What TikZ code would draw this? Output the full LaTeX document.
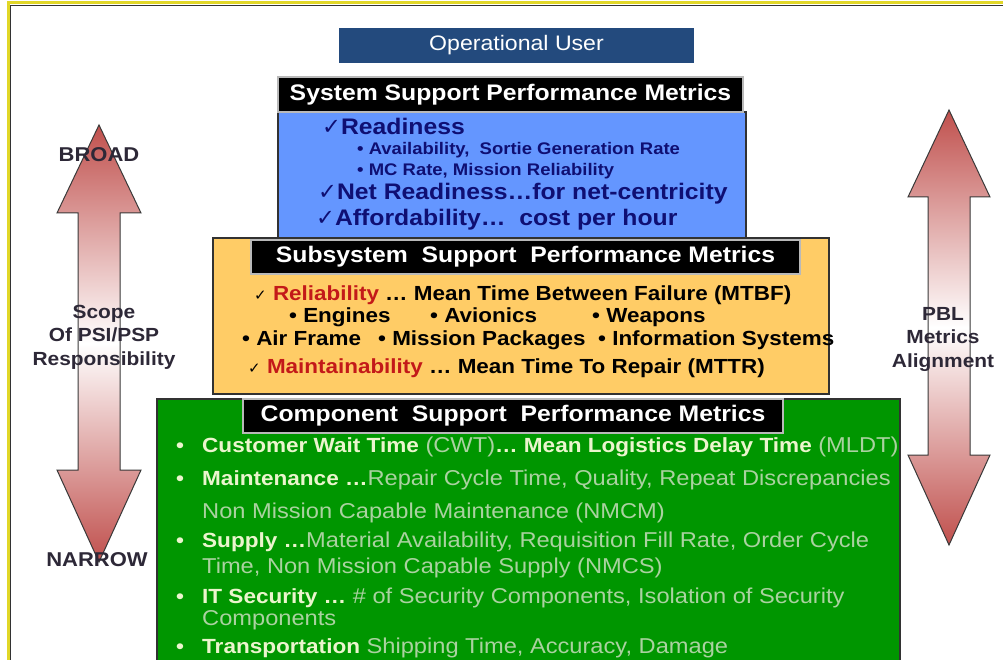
\documentclass[tikz,border=0pt]{standalone}
\usepackage{fontspec}
\setmainfont{Liberation Sans}[FakeStretch=1.1]
\newfontfamily\chkfont{DejaVu Sans}
\newcommand\setfs[1]{\fontsize{#1}{#1}\selectfont}
\newcommand\chk{{\chkfont ✓}}
% pale bold lead-in words of the component bullets
\newcommand\gb[1]{{\color{gpale}\bfseries\setfs{20.5}#1}}

\definecolor{opblue}{RGB}{35,74,125}
\definecolor{sysblue}{RGB}{100,150,255}
\definecolor{navyt}{RGB}{15,15,115}
\definecolor{subor}{RGB}{255,204,102}
\definecolor{redt}{RGB}{195,25,25}
\definecolor{compgr}{RGB}{0,150,0}
\definecolor{gpale}{RGB}{235,245,205}
\definecolor{gtxt}{RGB}{170,210,160}
\definecolor{arrred}{RGB}{192,80,77}
\definecolor{boxline}{RGB}{50,50,50}
\definecolor{framey}{RGB}{225,215,40}
\definecolor{lbl}{RGB}{45,40,55}

\begin{document}
\begin{tikzpicture}[x=1pt,y=-1pt,
  box/.style={draw=boxline, line width=1.3pt, inner sep=0pt},
  hdr/.style={fill=black, draw=gray!55, line width=1.2pt, text=white,
              font=\bfseries\setfs{22.5}, inner sep=0pt},
  txt/.style={inner sep=0pt, anchor=base west},
  bluetxt/.style={txt, text=navyt, font=\bfseries\setfs{22.5}},
  bluesub/.style={txt, text=navyt, font=\bfseries\setfs{16.8}},
  subtxt/.style={txt, text=black, font=\bfseries\setfs{20.4}},
  grtxt/.style={txt, text=gtxt, font=\setfs{21.5}},
  grbul/.style={txt, text=gpale, font=\bfseries\setfs{20.5}},
  sidelbl/.style={inner sep=0pt, text=lbl, align=center,
                  font=\bfseries\fontsize{19}{23.5}\selectfont},
  dblarrow/.style={draw=gray!45!black, line width=1pt,
                   top color=arrred, bottom color=arrred, middle color=white},
]
\useasboundingbox (0,0) rectangle (1003,660);
\fill[white] (0,0) rectangle (1003,660);

% outer frame
\draw[framey, line width=3pt] (8,660) -- (8,3) -- (1003,3);
\draw[black!80, line width=1.2pt] (10.5,660) -- (10.5,5.5) -- (1003,5.5);

% top box
\node[fill=opblue, minimum width=355pt, minimum height=35pt, inner sep=0pt,
      text=white, font=\setfs{21}] (user) at (516.5,45.5) {Operational User};

% system level
\node[box, fill=sysblue, minimum width=468pt, minimum height=126pt] (sys) at (512,175) {};
\node[hdr, minimum width=465pt, minimum height=35pt] (sysh) at (510.5,94.5)
  {System Support Performance Metrics};

\node[bluetxt] (rd) at (322,135) {\chk Readiness};
\node[bluesub] (av) at (357,155) {• Availability,\ \ Sortie Generation Rate};
\node[bluesub] (mc) at (357,176) {• MC Rate, Mission Reliability};
\node[bluetxt] (nr) at (318,200) {\chk Net Readiness…for net-centricity};
\node[bluetxt] (af) at (316,226) {\chk Affordability…\ \ cost per hour};

% subsystem level
\node[box, fill=subor, minimum width=616pt, minimum height=156pt] (sub) at (521,316) {};
\node[hdr, minimum width=549pt, minimum height=34pt] (subh) at (525.5,257)
  {Subsystem\ \ Support\ \ Performance Metrics};

\node[subtxt] (rel) at (254,300)
  {{\setfs{15}\chk}\ \textcolor{redt}{Reliability} … Mean Time Between Failure (MTBF)};
\node[subtxt] (eng) at (289,322) {• Engines};
\node[subtxt] (avi) at (430,322) {• Avionics};
\node[subtxt] (wea) at (592,322) {• Weapons};
\node[subtxt] (air) at (242,345) {• Air Frame};
\node[subtxt] (mis) at (378,345) {• Mission Packages};
\node[subtxt] (inf) at (598,345) {• Information Systems};
\node[subtxt] (mnt) at (248,373)
  {{\setfs{15}\chk}\ \textcolor{redt}{Maintainability} … Mean Time To Repair (MTTR)};

% component level
\node[box, fill=compgr, minimum width=743pt, minimum height=270pt] (comp) at (528.5,534) {};
\node[hdr, minimum width=540pt, minimum height=34pt] (comph) at (513,416)
  {Component\ \ Support\ \ Performance Metrics};

\node[grbul] (b1) at (176,452) {•};
\node[grtxt] (g1) at (202,452)
  {\gb{Customer Wait Time} (CWT)\gb{… Mean Logistics Delay Time} (MLDT)};
\node[grbul] (b2) at (176,485) {•};
\node[grtxt] (g2) at (202,485)
  {\gb{Maintenance …}Repair Cycle Time, Quality, Repeat Discrepancies};
\node[grtxt] (g3) at (202,518) {Non Mission Capable Maintenance (NMCM)};
\node[grbul] (b3) at (176,547) {•};
\node[grtxt] (g4) at (202,547)
  {\gb{Supply …}Material Availability, Requisition Fill Rate, Order Cycle};
\node[grtxt] (g5) at (202,573) {Time, Non Mission Capable Supply (NMCS)};
\node[grbul] (b4) at (176,603) {•};
\node[grtxt] (g6) at (202,603)
  {\gb{IT Security …} \# of Security Components, Isolation of Security};
\node[grtxt] (g7) at (202,625) {Components};
\node[grbul] (b5) at (176,653) {•};
\node[grtxt] (g8) at (202,653)
  {\gb{Transportation} Shipping Time, Accuracy, Damage};

% scope arrow (left)
\draw[dblarrow] (99,125) -- (141,213) -- (120,213) -- (120,470) -- (141,470)
  -- (99,562) -- (57,470) -- (78,470) -- (78,213) -- (57,213) -- cycle;
\node[sidelbl, font=\bfseries\setfs{20}] (broad) at (99,155) {BROAD};
\node[sidelbl, font=\bfseries\setfs{20}] (narrow) at (97,560) {NARROW};
\node[sidelbl] (scope) at (104,337) {Scope\\Of PSI/PSP\\Responsibility};

% alignment arrow (right)
\draw[dblarrow] (949,110) -- (990,197) -- (970,197) -- (970,455) -- (990,455)
  -- (949,545) -- (908,455) -- (928,455) -- (928,197) -- (908,197) -- cycle;
\node[sidelbl] (pbl) at (943,339) {PBL\\Metrics\\Alignment};
\end{tikzpicture}
\end{document}
